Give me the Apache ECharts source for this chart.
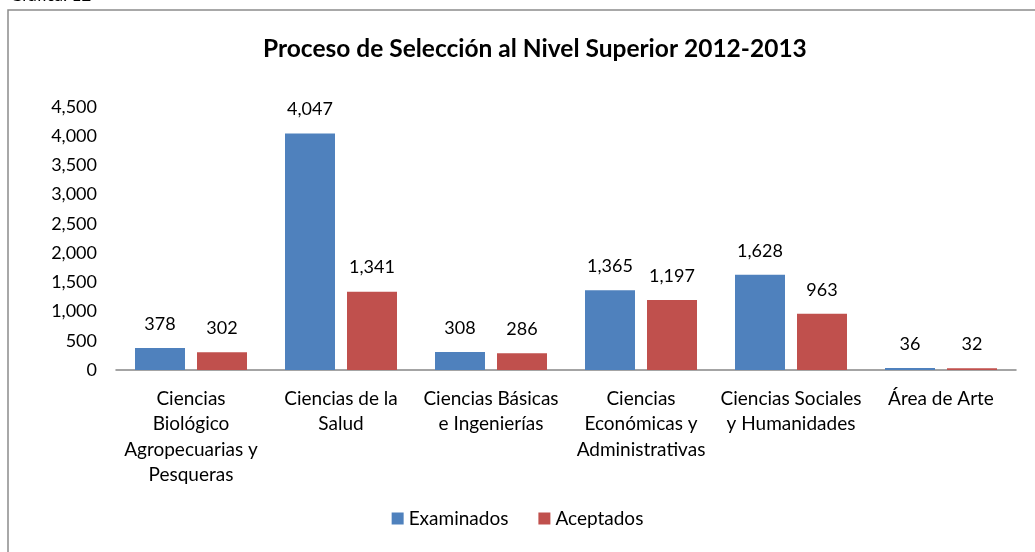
<!DOCTYPE html>
<html>
<head>
<meta charset="utf-8">
<script src="https://cdn.jsdelivr.net/npm/echarts@6/dist/echarts.min.js"></script>
<style>
  html, body { margin: 0; padding: 0; background: #fff; }
  #chart { width: 1035px; height: 552px; }
</style>
</head>
<body>
<div id="chart"></div>
<script>
// categories (line breaks as in the original figure)
var categories = [
  "Ciencias\nBiológico\nAgropecuarias y\nPesqueras",
  "Ciencias de la\nSalud",
  "Ciencias Básicas\ne Ingenierías",
  "Ciencias\nEconómicas y\nAdministrativas",
  "Ciencias Sociales\ny Humanidades",
  "Área de Arte"
];
var examinados = [378, 4047, 308, 1365, 1628, 36];
var aceptados = [302, 1341, 286, 1197, 963, 32];
var yTicks = [0, 500, 1000, 1500, 2000, 2500, 3000, 3500, 4000, 4500];

var FONT = "Lato";
var fmt = function (v) {
  return Number(v).toLocaleString("en-US");
};

var myChart = echarts.init(document.getElementById("chart"));

var option = {
  backgroundColor: "#fff",
  textStyle: { fontFamily: FONT, color: "#000" },
  animation: false,
  title: {
    text: "Proceso de Selección al Nivel Superior 2012-2013",
    left: 258,
    top: 32,
    textStyle: { fontFamily: FONT, fontSize: 24.5, fontWeight: "bold", color: "#000" }
  },
  graphic: [
    {
      type: "rect",
      shape: { x: 8, y: 10, width: 1040, height: 560 },
      style: { fill: "none", stroke: "#8c8c8c", lineWidth: 1.5 },
      silent: true
    },
    {
      type: "text",
      left: 10,
      top: -13,
      style: { text: "Gráfica: 12", font: "17px " + FONT, fill: "#000" },
      silent: true
    }
  ],
  legend: {
    bottom: 19,
    left: "center",
    itemWidth: 12,
    itemHeight: 12,
    itemGap: 30,
    icon: "rect",
    textStyle: { fontFamily: FONT, fontSize: 19, color: "#000" },
    data: ["Examinados", "Aceptados"]
  },
  grid: {
    left: 116,
    right: 19,
    top: 107,
    bottom: 182,
    containLabel: false
  },
  xAxis: {
    type: "category",
    data: categories,
    axisLine: { show: true, lineStyle: { color: "#868686", width: 1.5 } },
    axisTick: { show: false },
    axisLabel: {
      interval: 0,
      margin: 16,
      fontFamily: FONT,
      fontSize: 19,
      lineHeight: 25.5,
      color: "#000",
      align: "center"
    }
  },
  yAxis: {
    type: "value",
    min: yTicks[0],
    max: yTicks[yTicks.length - 1],
    interval: 500,
    splitLine: { show: false },
    axisLine: { show: false },
    axisTick: { show: false },
    axisLabel: {
      margin: 19,
      fontFamily: FONT,
      fontSize: 18,
      color: "#000",
      formatter: fmt
    }
  },
  series: [
    {
      name: "Examinados",
      type: "bar",
      data: examinados,
      barWidth: 50,
      barGap: "24%",
      itemStyle: { color: "#4F81BD" },
      label: {
        show: true,
        position: "top",
        distance: 15,
        fontFamily: FONT,
        fontSize: 18,
        color: "#000",
        formatter: function (p) { return fmt(p.value); }
      }
    },
    {
      name: "Aceptados",
      type: "bar",
      data: aceptados,
      barWidth: 50,
      barGap: "24%",
      itemStyle: { color: "#C0504D" },
      label: {
        show: true,
        position: "top",
        distance: 15,
        fontFamily: FONT,
        fontSize: 18,
        color: "#000",
        formatter: function (p) { return fmt(p.value); }
      }
    }
  ]
};

myChart.setOption(option);
</script>
</body>
</html>
